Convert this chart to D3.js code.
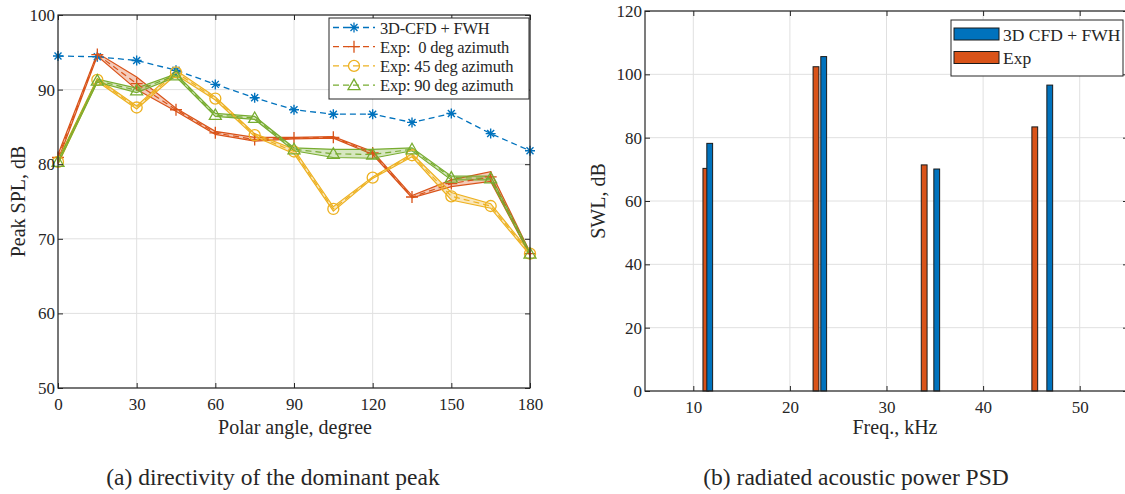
<!DOCTYPE html>
<html>
<head>
<meta charset="utf-8">
<script src="https://cdn.jsdelivr.net/npm/d3@7"></script>
<style>
  body { margin: 0; background: #fff; }
  svg text { font-family: "Liberation Serif", "Times New Roman", serif; fill: #262626; }
</style>
</head>
<body>
<div id="chart"></div>
<script>
// ---- data: (a) directivity of dominant peak ----
const angles = [0, 15, 30, 45, 60, 75, 90, 105, 120, 135, 150, 165, 180];
const cfdPeak = [94.5, 94.4, 93.9, 92.6, 90.7, 88.9, 87.3, 86.7, 86.7, 85.6, 86.8, 84.1, 81.8];
const exp0 = [80.9, 94.7, 90.8, 87.3, 84.2, 83.3, 83.5, 83.6, 81.5, 75.6, 77.4, 78.3, 68.0];
const exp0Lo = [80.5, 94.5, 90.0, 87.1, 84.0, 83.1, 83.4, 83.5, 81.3, 75.5, 77.0, 77.7, 67.8];
const exp0Hi = [81.3, 94.9, 91.7, 87.5, 84.4, 83.6, 83.6, 83.7, 81.7, 75.8, 77.9, 79.0, 68.2];
const exp45 = [80.3, 91.3, 87.6, 92.3, 88.8, 83.9, 81.7, 74.0, 78.2, 81.2, 75.7, 74.4, 68.0];
const exp45Lo = [80.0, 91.1, 87.4, 92.0, 88.6, 83.7, 81.4, 73.7, 78.1, 81.0, 75.2, 74.1, 67.8];
const exp45Hi = [80.6, 91.5, 87.8, 92.6, 89.0, 84.1, 82.0, 74.3, 78.3, 81.4, 76.2, 74.7, 68.2];
const exp90 = [80.3, 91.2, 89.9, 91.9, 86.6, 86.2, 82.0, 81.4, 81.3, 82.0, 78.2, 78.1, 68.0];
const exp90Lo = [80.1, 91.0, 89.6, 91.7, 86.4, 86.0, 81.8, 80.9, 80.8, 81.8, 77.9, 77.9, 67.8];
const exp90Hi = [80.5, 91.4, 90.2, 92.1, 86.8, 86.4, 82.2, 82.0, 82.0, 82.2, 78.4, 78.4, 68.2];
const angleTicks = [0, 30, 60, 90, 120, 150, 180];
const splTicks = [50, 60, 70, 80, 90, 100];

// ---- data: (b) radiated acoustic power PSD ----
const freqExp = [11.3, 22.7, 33.9, 45.35];
const swlExp = [70.3, 102.4, 71.4, 83.4];
const freqCfd = [11.7, 23.5, 35.2, 46.9];
const swlCfd = [78.2, 105.6, 70.1, 96.6];
const freqTicks = [10, 20, 30, 40, 50];
const swlTicks = [0, 20, 40, 60, 80, 100, 120];

const C = { blue: "#0072BD", orange: "#D95319", yellow: "#EDB120", green: "#77AC30" };
const AX = "#262626", GRID = "#e0e0e0";

const svg = d3.select("#chart").append("svg")
  .attr("width", 1125).attr("height", 494);

// marker path generator (MATLAB-like markers)
function marker(type, s) {
  if (type === "star") {
    const d = s * 0.7;
    return `M${-s},0L${s},0M0,${-s}L0,${s}M${-d},${-d}L${d},${d}M${-d},${d}L${d},${-d}`;
  }
  if (type === "plus") return `M${-s},0L${s},0M0,${-s}L0,${s}`;
  if (type === "circle") return d3.arc()({ innerRadius: 0, outerRadius: s, startAngle: 0, endAngle: 2 * Math.PI });
  if (type === "tri") return `M0,${-s}L${s},${s * 0.75}L${-s},${s * 0.75}Z`;
}

// grid lines
function frame(g, x, y, xTicks, yTicks, w, h) {
  g.append("g").selectAll("line").data(xTicks).join("line")
    .attr("x1", d => x(d)).attr("x2", d => x(d)).attr("y1", 0).attr("y2", h)
    .attr("stroke", GRID);
  g.append("g").selectAll("line").data(yTicks).join("line")
    .attr("x1", 0).attr("x2", w).attr("y1", d => y(d)).attr("y2", d => y(d))
    .attr("stroke", GRID);
}
// box with inward ticks on all four sides
function axes(g, x, y, xTicks, yTicks, w, h) {
  const tk = 5;
  const ax = (a, t) => a.tickValues(t).tickSizeInner(-tk).tickSizeOuter(0).tickPadding(10);
  const bottom = g.append("g").attr("transform", `translate(0,${h})`).call(ax(d3.axisBottom(x), xTicks));
  const left = g.append("g").call(ax(d3.axisLeft(y), yTicks).tickPadding(3));
  const top = g.append("g").call(ax(d3.axisTop(x), xTicks).tickFormat(""));
  const right = g.append("g").attr("transform", `translate(${w},0)`).call(ax(d3.axisRight(y), yTicks).tickFormat(""));
  [bottom, left, top, right].forEach(a => {
    a.select(".domain").remove();
    a.selectAll("line").attr("stroke", AX);
    a.selectAll("text").style("font-size", "17px").attr("fill", AX);
  });
  g.append("rect").attr("width", w).attr("height", h)
    .attr("fill", "none").attr("stroke", AX).attr("stroke-width", 1.2);
}

// ================= (a) =================
{
  const m = { left: 58, top: 15 }, w = 472, h = 373;
  const g = svg.append("g").attr("transform", `translate(${m.left},${m.top})`);
  const x = d3.scaleLinear().domain([0, 180]).range([0, w]);
  const y = d3.scaleLinear().domain([50, 100]).range([h, 0]);
  frame(g, x, y, angleTicks, splTicks, w, h);

  const line = d3.line().x(d => x(d[0])).y(d => y(d[1]));
  const exps = [
    { mean: exp0, lo: exp0Lo, hi: exp0Hi, color: C.orange, mk: "plus", name: "Exp:  0 deg azimuth" },
    { mean: exp45, lo: exp45Lo, hi: exp45Hi, color: C.yellow, mk: "circle", name: "Exp: 45 deg azimuth" },
    { mean: exp90, lo: exp90Lo, hi: exp90Hi, color: C.green, mk: "tri", name: "Exp: 90 deg azimuth" }
  ];

  // bands
  exps.forEach(s => {
    g.append("path")
      .datum(angles.map((a, i) => [a, s.lo[i], s.hi[i]]))
      .attr("fill", s.color).attr("fill-opacity", 0.3).attr("stroke", "none")
      .attr("d", d3.area().x(d => x(d[0])).y0(d => y(d[1])).y1(d => y(d[2])));
    [s.lo, s.hi].forEach(arr => {
      g.append("path").datum(angles.map((a, i) => [a, arr[i]]))
        .attr("fill", "none").attr("stroke", s.color).attr("stroke-width", 1.2)
        .attr("d", line);
    });
  });

  // CFD dashed
  g.append("path").datum(angles.map((a, i) => [a, cfdPeak[i]]))
    .attr("fill", "none").attr("stroke", C.blue).attr("stroke-width", 1.3)
    .attr("stroke-dasharray", "6,4").attr("d", line);
  g.append("g").selectAll("path").data(angles.map((a, i) => [a, cfdPeak[i]])).join("path")
    .attr("transform", d => `translate(${x(d[0])},${y(d[1])})`)
    .attr("d", marker("star", 5)).attr("stroke", C.blue).attr("stroke-width", 1.4).attr("fill", "none");

  // Exp mean dashed + markers
  exps.forEach(s => {
    const pts = angles.map((a, i) => [a, s.mean[i]]);
    g.append("path").datum(pts)
      .attr("fill", "none").attr("stroke", s.color).attr("stroke-width", 1.2)
      .attr("stroke-dasharray", "6,4").attr("d", line);
    g.append("g").selectAll("path").data(pts).join("path")
      .attr("transform", d => `translate(${x(d[0])},${y(d[1])})`)
      .attr("d", marker(s.mk, s.mk === "circle" ? 5.5 : 6))
      .attr("stroke", s.color).attr("stroke-width", 1.3).attr("fill", "none");
  });

  axes(g, x, y, angleTicks, splTicks, w, h);

  g.append("text").attr("x", 237).attr("y", 419).attr("text-anchor", "middle")
    .style("font-size", "20px").text("Polar angle, degree");
  g.append("text").attr("transform", `translate(${-33},${h / 2}) rotate(-90)`)
    .attr("text-anchor", "middle").style("font-size", "20px").text("Peak SPL, dB");

  // legend
  const legend = [
    { color: C.blue, mk: "star", name: "3D-CFD + FWH", sz: 5 },
    ...exps.map(s => ({ color: s.color, mk: s.mk, name: s.name, sz: s.mk === "circle" ? 5.5 : 6 }))
  ];
  const lg = g.append("g").attr("transform", `translate(${329 - m.left},${18 - m.top})`);
  lg.append("rect").attr("width", 200).attr("height", 81)
    .attr("fill", "#fff").attr("stroke", AX).attr("stroke-width", 1);
  legend.forEach((d, i) => {
    const cy = 9.5 + i * 19.2;
    lg.append("line").attr("x1", 4).attr("x2", 46).attr("y1", cy).attr("y2", cy)
      .attr("stroke", d.color).attr("stroke-width", 1.3).attr("stroke-dasharray", "6,4");
    lg.append("path").attr("transform", `translate(25,${cy})`).attr("d", marker(d.mk, d.sz))
      .attr("stroke", d.color).attr("stroke-width", 1.3).attr("fill", "none");
    lg.append("text").attr("x", 51).attr("y", cy + 6).style("font-size", "16.5px")
      .style("white-space", "pre").style("letter-spacing", "-0.2px").text(d.name);
  });

  svg.append("text").attr("x", 273).attr("y", 485).attr("text-anchor", "middle")
    .style("font-size", "23.5px").text("(a) directivity of the dominant peak");
}

// ================= (b) =================
{
  const m = { left: 645, top: 11 }, w = 483, h = 380;
  const g = svg.append("g").attr("transform", `translate(${m.left},${m.top})`);
  const x = d3.scaleLinear().domain([5, 55]).range([0, w]);
  const y = d3.scaleLinear().domain([0, 120]).range([h, 0]);
  frame(g, x, y, freqTicks, swlTicks, w, h);

  const bw = 0.6;
  const bars = (f, v, color) => g.append("g").selectAll("rect").data(f.map((d, i) => [d, v[i]])).join("rect")
    .attr("x", d => x(d[0] - bw / 2)).attr("width", d => x(d[0] + bw / 2) - x(d[0] - bw / 2))
    .attr("y", d => y(d[1])).attr("height", d => y(0) - y(d[1]))
    .attr("fill", color).attr("stroke", "#1a1a1a").attr("stroke-width", 1);
  bars(freqExp, swlExp, C.orange);
  bars(freqCfd, swlCfd, C.blue);

  axes(g, x, y, freqTicks, swlTicks, w, h);

  g.append("text").attr("x", 250).attr("y", 423).attr("text-anchor", "middle")
    .style("font-size", "20px").text("Freq., kHz");
  g.append("text").attr("transform", `translate(${-40},${h / 2}) rotate(-90)`)
    .attr("text-anchor", "middle").style("font-size", "20px").text("SWL, dB");

  const lg = g.append("g").attr("transform", `translate(${951 - m.left},${20 - m.top})`);
  lg.append("rect").attr("width", 172).attr("height", 56)
    .attr("fill", "#fff").attr("stroke", AX).attr("stroke-width", 1);
  [{ color: C.blue, name: "3D CFD + FWH" }, { color: C.orange, name: "Exp" }].forEach((d, i) => {
    const ty = 8 + i * 23.5;
    lg.append("rect").attr("x", 3).attr("y", ty).attr("width", 45).attr("height", 12)
      .attr("fill", d.color).attr("stroke", "#1a1a1a").attr("stroke-width", 1);
    lg.append("text").attr("x", 52).attr("y", ty + 12.5).style("font-size", "17.5px").text(d.name);
  });

  svg.append("text").attr("x", 856).attr("y", 485).attr("text-anchor", "middle")
    .style("font-size", "23.5px").text("(b) radiated acoustic power PSD");
}
</script>
</body>
</html>
